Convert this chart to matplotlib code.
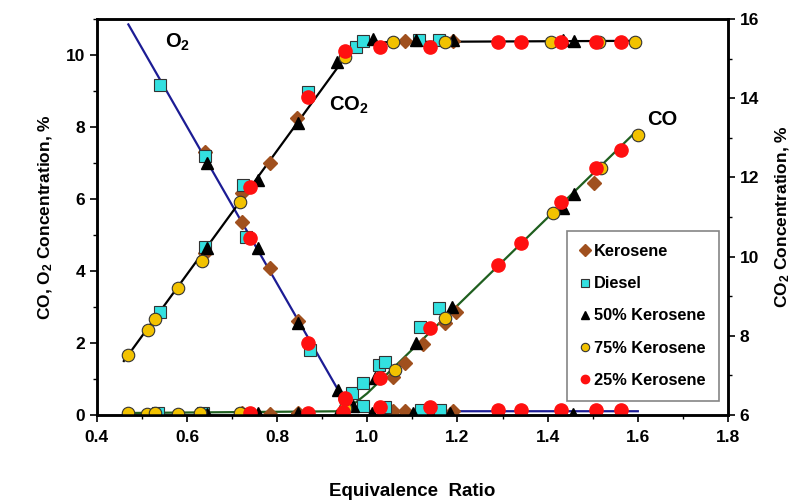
import matplotlib.pyplot as plt
from matplotlib.ticker import MultipleLocator

plt.rcParams['font.family'] = ['Liberation Sans', 'DejaVu Sans']
plt.rcParams['font.weight'] = 'bold'
plt.rcParams['mathtext.fontset'] = 'custom'
plt.rcParams['mathtext.rm'] = 'Liberation Sans:bold'
plt.rcParams['mathtext.bf'] = 'Liberation Sans:bold'
plt.rcParams['mathtext.it'] = 'Liberation Sans:bold'
plt.rcParams['mathtext.default'] = 'bf'

# ---- trend lines ----
o2_line_x = [0.47, 0.96, 1.0, 1.6]
o2_line_y = [10.85, 0.15, 0.1, 0.1]
co_line_x = [0.46, 0.95, 1.0, 1.59]
co_line_y = [0.05, 0.1, 0.6, 7.8]
co2_line_x = [0.46, 0.96, 1.0, 1.05, 1.6]
co2_line_y = [7.36, 15.18, 15.38, 15.42, 15.45]

# ---- Kerosene ----
ker_o2_x = [0.64, 0.722, 0.784, 0.847, 1.056, 1.084, 1.191]
ker_o2_y = [7.3, 5.35, 4.08, 2.6, 0.12, 0.12, 0.12]
ker_co_x = [0.722, 0.784, 0.847, 1.056, 1.084, 1.124, 1.173, 1.196, 1.502]
ker_co_y = [0.05, 0.02, 0.05, 1.06, 1.44, 1.97, 2.56, 2.86, 6.45]
ker_co2_x = [0.64, 0.722, 0.784, 0.844, 1.084, 1.19]
ker_co2_y = [10.1, 11.6, 12.36, 13.5, 15.45, 15.45]

# ---- Diesel ----
die_o2_x = [0.54, 0.64, 0.731, 0.873, 0.991, 1.04, 1.118, 1.162]
die_o2_y = [9.17, 7.2, 4.95, 1.8, 0.25, 0.22, 0.14, 0.14]
die_co_x = [0.536, 0.636, 0.722, 0.967, 0.99, 1.025, 1.04, 1.117, 1.16]
die_co_y = [0.05, 0.05, 0.03, 0.61, 0.89, 1.39, 1.47, 2.44, 2.97]
die_co2_x = [0.54, 0.64, 0.725, 0.869, 0.975, 0.99, 1.115, 1.16]
die_co2_y = [8.6, 10.24, 11.8, 14.16, 15.3, 15.45, 15.47, 15.47]

# ---- 50% Kerosene ----
k50_o2_x = [0.644, 0.758, 0.847, 0.936, 1.011, 1.102, 1.184, 1.429, 1.456]
k50_o2_y = [7.0, 4.64, 2.56, 0.69, 0.05, 0.05, 0.05, 0.03, 0.03]
k50_co_x = [0.644, 0.758, 0.847, 0.933, 0.969, 1.018, 1.107, 1.187, 1.433, 1.458]
k50_co_y = [0.02, 0.05, 0.05, 0.0, 0.25, 1.03, 2.0, 3.0, 5.75, 6.15]
k50_co2_x = [0.644, 0.758, 0.847, 0.933, 1.013, 1.107, 1.189, 1.433, 1.458]
k50_co2_y = [10.22, 11.93, 13.37, 14.91, 15.5, 15.47, 15.47, 15.47, 15.45]

# ---- 75% Kerosene ----
k75_co_x = [0.469, 0.511, 0.529, 0.58, 0.629, 0.718, 0.95, 1.062, 1.173, 1.411, 1.518, 1.60]
k75_co_y = [0.05, 0.03, 0.05, 0.03, 0.05, 0.05, 0.2, 1.25, 2.7, 5.61, 6.86, 7.78]
k75_co2_x = [0.469, 0.513, 0.529, 0.58, 0.633, 0.718, 0.95, 1.058, 1.173, 1.407, 1.513, 1.593]
k75_co2_y = [7.52, 8.15, 8.42, 9.21, 9.89, 11.38, 15.05, 15.42, 15.42, 15.42, 15.42, 15.42]

# ---- 25% Kerosene ----
k25_o2_x = [0.74, 0.869, 0.951, 1.029, 1.14, 1.289, 1.34, 1.429, 1.507, 1.562]
k25_o2_y = [4.92, 2.0, 0.44, 0.22, 0.22, 0.14, 0.14, 0.14, 0.14, 0.14]
k25_co_x = [0.74, 0.869, 0.947, 0.951, 1.029, 1.14, 1.289, 1.34, 1.429, 1.507, 1.562]
k25_co_y = [0.05, 0.05, 0.08, 0.47, 1.03, 2.42, 4.17, 4.78, 5.92, 6.86, 7.36]
k25_co2_x = [0.74, 0.869, 0.951, 1.029, 1.14, 1.289, 1.34, 1.429, 1.507, 1.562]
k25_co2_y = [11.76, 14.03, 15.2, 15.3, 15.3, 15.42, 15.42, 15.42, 15.42, 15.42]

fig = plt.figure(figsize=(8.0, 5.01), dpi=100)
ax = fig.add_axes([0.121, 0.172, 0.789, 0.79])
ax2 = ax.twinx()

# Trend lines
ax.plot(o2_line_x, o2_line_y, color='#1c1c94', lw=1.6, zorder=1)
ax.plot(co_line_x, co_line_y, color='#1f5f1f', lw=1.6, zorder=1)
ax2.plot(co2_line_x, co2_line_y, color='black', lw=1.6, zorder=1)

styles = {
    'ker': dict(marker='D', color='#a0501e', ms=6.8, mec='#a0501e', ls='none'),
    'die': dict(marker='s', color='#33e0e0', ms=8.5, mec='#333333', mew=0.8, ls='none'),
    'k50': dict(marker='^', color='black', ms=9.0, mec='black', ls='none'),
    'k75': dict(marker='o', color='#f2c200', ms=9.0, mec='#333333', mew=0.8, ls='none'),
    'k25': dict(marker='o', color='#ff1010', ms=9.5, mec='#ff1010', ls='none'),
}

for x, y, k in [(ker_o2_x, ker_o2_y, 'ker'), (ker_co_x, ker_co_y, 'ker'),
                (die_o2_x, die_o2_y, 'die'), (die_co_x, die_co_y, 'die'),
                (k50_o2_x, k50_o2_y, 'k50'), (k50_co_x, k50_co_y, 'k50'),
                (k75_co_x, k75_co_y, 'k75'),
                (k25_o2_x, k25_o2_y, 'k25'), (k25_co_x, k25_co_y, 'k25')]:
    ax.plot(x, y, zorder=3, **styles[k])

for x, y, k in [(ker_co2_x, ker_co2_y, 'ker'), (die_co2_x, die_co2_y, 'die'),
                (k50_co2_x, k50_co2_y, 'k50'), (k75_co2_x, k75_co2_y, 'k75'),
                (k25_co2_x, k25_co2_y, 'k25')]:
    ax2.plot(x, y, zorder=3, **styles[k])

# Axes limits and ticks
ax.set_xlim(0.4, 1.8)
ax.set_ylim(0, 11)
ax2.set_ylim(6, 16)
ax.xaxis.set_major_locator(MultipleLocator(0.2))
ax.xaxis.set_minor_locator(MultipleLocator(0.1))
ax.yaxis.set_major_locator(MultipleLocator(2))
ax.yaxis.set_minor_locator(MultipleLocator(1))
ax2.yaxis.set_major_locator(MultipleLocator(2))
ax2.yaxis.set_minor_locator(MultipleLocator(1))
ax.xaxis.set_major_formatter(lambda v, p: f'{v:.1f}')

for a in (ax, ax2):
    a.tick_params(which='major', length=5, width=1.2, labelsize=12.5, direction='out')
    a.tick_params(which='minor', length=3, width=1.0, direction='out')
    for s in a.spines.values():
        s.set_linewidth(1.8)
ax.tick_params(axis='x', pad=6)

ax.set_xlabel('Equivalence  Ratio', fontsize=13.5, fontweight='bold', labelpad=27)
ax.set_ylabel('CO, O$_2$ Concentration, %', fontsize=12.5, fontweight='bold', labelpad=8)
ax2.set_ylabel('CO$_2$ Concentration, %', fontsize=12.5, fontweight='bold', labelpad=10)

# Curve labels
ax.text(0.58, 10.35, 'O$_2$', fontsize=14.5, fontweight='bold', ha='center', va='center')
ax.text(0.96, 8.6, 'CO$_2$', fontsize=14.5, fontweight='bold', ha='center', va='center')
ax.text(1.655, 8.2, 'CO', fontsize=14.5, fontweight='bold', ha='center', va='center')

# Legend
handles = [plt.Line2D([], [], **dict(styles[k], ms=6)) for k in ['ker', 'die', 'k50', 'k75', 'k25']]
labels = ['Kerosene', 'Diesel', '50% Kerosene', '75% Kerosene', '25% Kerosene']
leg = ax2.legend(handles, labels, loc='lower right', bbox_to_anchor=(0.985, 0.035),
                 fontsize=11.8, frameon=True, fancybox=False, edgecolor='#666666',
                 handlelength=0.6, handletextpad=0.25, labelspacing=1.05,
                 borderpad=0.8, borderaxespad=0)
leg.get_frame().set_linewidth(1.2)

fig.savefig('out.png', dpi=100)
